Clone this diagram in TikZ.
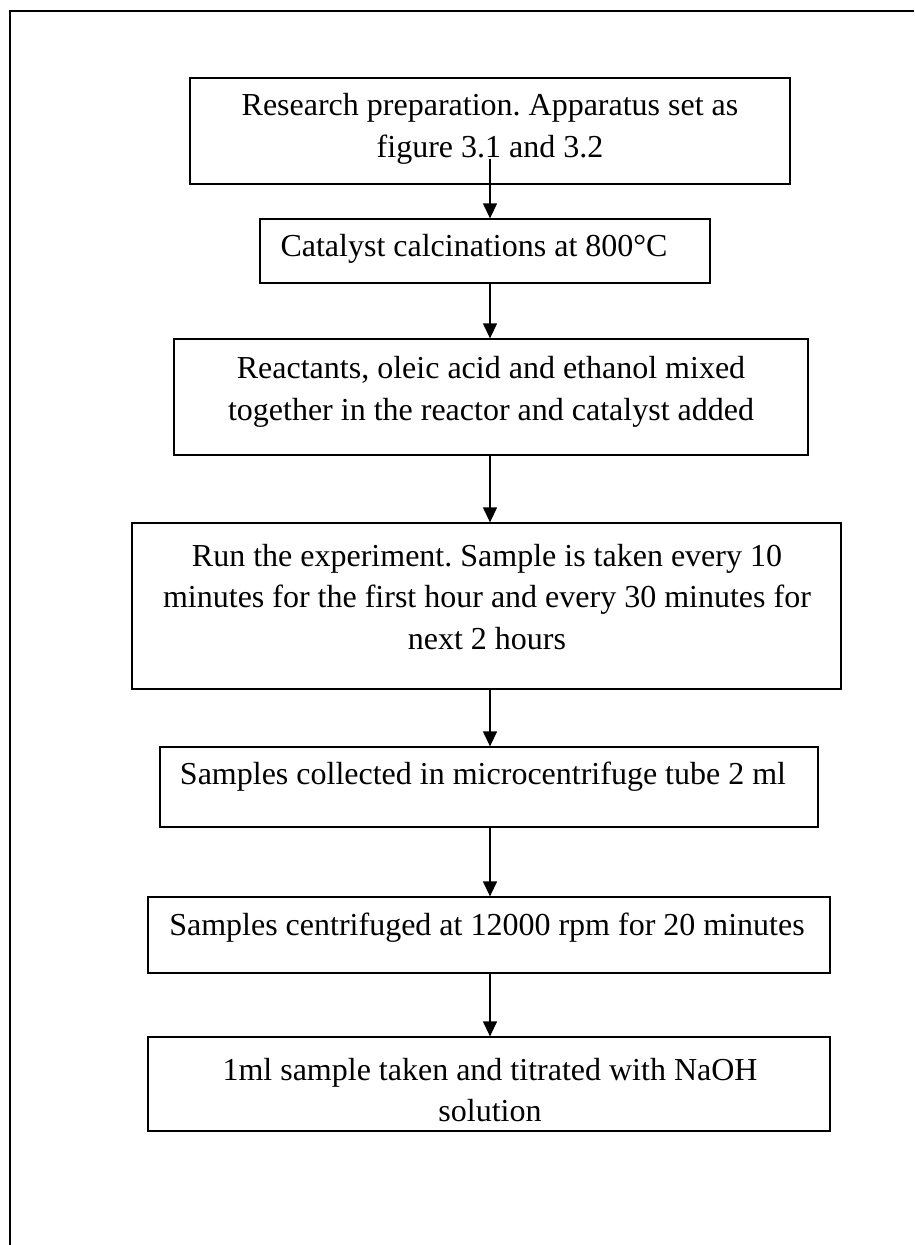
\documentclass[tikz,border=0pt]{standalone}
\usepackage{fontspec}
\setmainfont{Liberation Serif}
\usetikzlibrary{arrows.meta}
\frenchspacing

\begin{document}
\begin{tikzpicture}[x=1pt,y=1pt,yscale=-1,xscale=1,
        stepbox/.style={draw,line width=1.3pt,inner sep=0pt},
        steptext/.style={align=center,font=\fontsize{32}{41.5}\selectfont,inner sep=0pt},
        flow/.style={line width=1.3pt,-{Triangle[length=15pt,width=14pt]}}]
        \useasboundingbox (0,0) rectangle (914,1245);

        %Frame
        \draw [line width=2pt] (914,11) -- (10,11) -- (10,1245) ;

        %Shape: Rect [id:b1]
        \node [stepbox,minimum width=600,minimum height=106] (b1) at (490,131) {};
        %Shape: Rect [id:b2]
        \node [stepbox,minimum width=450,minimum height=64] (b2) at (485,251) {};
        %Shape: Rect [id:b3]
        \node [stepbox,minimum width=634,minimum height=116] (b3) at (491,397) {};
        %Shape: Rect [id:b4]
        \node [stepbox,minimum width=709,minimum height=166] (b4) at (486.5,606) {};
        %Shape: Rect [id:b5]
        \node [stepbox,minimum width=658,minimum height=80] (b5) at (489,787) {};
        %Shape: Rect [id:b6]
        \node [stepbox,minimum width=682,minimum height=76] (b6) at (489,935) {};
        %Shape: Rect [id:b7]
        \node [stepbox,minimum width=682,minimum height=94] (b7) at (489,1084) {};

        % Text Node
        \node [steptext] (t1) at (490,129) {Research preparation. Apparatus set as\\figure 3.1 and 3.2};
        % Text Node
        \node [steptext] (t2) at (474,249) {Catalyst calcinations at 800°C};
        % Text Node
        \node [steptext] (t3) at (491,392) {Reactants, oleic acid and ethanol mixed\\together in the reactor and catalyst added};
        % Text Node
        \node [steptext] (t4) at (487,597) {Run the experiment. Sample is taken every 10\\minutes for the first hour and every 30 minutes for\\next 2 hours};
        % Text Node
        \node [steptext] (t5) at (483,777) {Samples collected in microcentrifuge tube 2 ml};
        % Text Node
        \node [steptext] (t6) at (487,928) {Samples centrifuged at 12000 rpm for 20 minutes};
        % Text Node
        \node [steptext] (t7) at (490,1090) {1ml sample taken and titrated with NaOH\\solution};

        %Straight Lines
        \coordinate (a1) at (490,159);
        \draw [flow] (a1) -- (b2.north -| a1) ;
        \draw [flow] (b2.south -| a1) -- (b3.north -| a1) ;
        \draw [flow] (b3.south -| a1) -- (b4.north -| a1) ;
        \draw [flow] (b4.south -| a1) -- (b5.north -| a1) ;
        \draw [flow] (b5.south -| a1) -- (b6.north -| a1) ;
        \draw [flow] (b6.south -| a1) -- (b7.north -| a1) ;
    \end{tikzpicture}
\end{document}
